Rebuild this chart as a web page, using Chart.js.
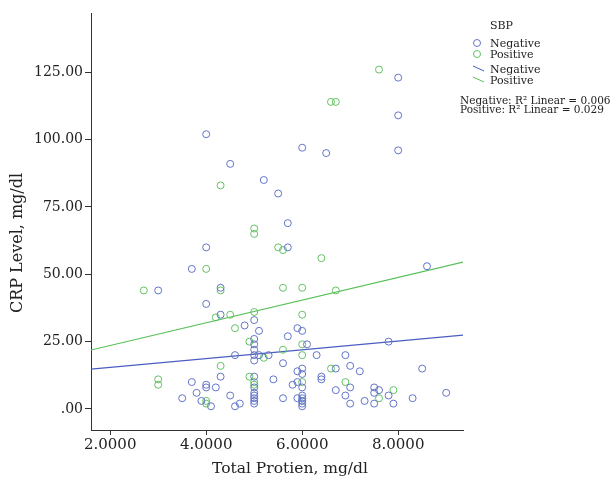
<!DOCTYPE html>
<html>
<head>
<meta charset="utf-8">
<script src="https://cdn.jsdelivr.net/npm/chart.js@4.4.1/dist/chart.umd.min.js"></script>
<style>
    html, body { margin: 0; padding: 0; background: #fff; }
    #wrap { width: 613px; height: 480px; }
</style>
</head>
<body>
<div id="wrap"><canvas id="crpChart" width="613" height="480"></canvas></div>
<script>
// Data
const negativePoints = [
    [8.0,123],[8.0,109],[4.0,102],[6.0,97],[6.5,95],[8.0,96],[4.5,91],[5.2,85],[5.5,80],[5.7,69],
    [4.0,60],[5.7,60],[3.7,52],[8.6,53],[3.0,44],[4.3,45],[4.0,39],[4.3,35],[5.0,33],[4.8,31],
    [5.1,29],[5.9,30],[6.0,29],[5.7,27],[5.0,26],[5.0,24],[6.1,24],[7.8,25],[5.0,22],[5.0,20],
    [5.0,18],[4.6,20],[5.1,20],[5.3,20],[6.3,20],[6.9,20],[5.6,17],[6.7,15],[7.0,16],[7.2,14],
    [8.5,15],[5.9,14],[6.0,15],[6.0,13],[4.3,12],[5.0,12],[5.4,11],[6.4,12],[6.4,11],[3.7,10],
    [4.0,9],[4.0,8],[4.2,8],[5.8,9],[5.9,10],[6.0,8],[7.0,8],[6.7,7],[6.9,5],[7.5,8],
    [7.5,6],[7.6,7],[7.8,5],[8.3,4],[9.0,6],[5.0,8],[5.0,6],[5.0,5],[5.0,4],[5.0,3],
    [5.0,2],[3.5,4],[3.8,6],[3.9,3],[4.1,1],[4.5,5],[4.6,1],[4.7,2],[5.6,4],[5.9,4],
    [6.0,5],[6.0,4],[6.0,3],[6.0,2],[6.0,1],[7.0,2],[7.3,3],[7.5,2],[7.9,2]
];
const positivePoints = [
    [7.6,126],[6.6,114],[6.7,114],[4.3,83],[5.0,67],[5.0,65],[5.5,60],[5.6,59],[6.4,56],[4.0,52],
    [2.7,44],[4.3,44],[5.6,45],[6.0,45],[6.7,44],[4.2,34],[4.5,35],[5.0,36],[6.0,35],[4.6,30],
    [4.9,25],[6.0,24],[5.6,22],[6.0,20],[5.2,19],[4.3,16],[6.6,15],[3.0,11],[3.0,9],[4.9,12],
    [5.0,10],[5.0,9],[6.0,10],[6.9,10],[7.9,7],[7.6,4],[4.0,3],[4.0,2],[6.0,3]
];
// Fit line ends at the edges of the plot
const negativeFit = [[1.6,14.8],[9.35,27.4]];
const positiveFit = [[1.6,21.9],[9.35,54.5]];

const xTickValues = [2, 4, 6, 8];
const xTickLabels = ['2.0000', '4.0000', '6.0000', '8.0000'];
const yTickValues = [0, 25, 50, 75, 100, 125];
const yTickLabels = ['.00', '25.00', '50.00', '75.00', '100.00', '125.00'];

const blueMark = '#6274c8';
const greenMark = '#62c262';
const blueLine = '#4a5dc2';
const greenLine = '#58c058';
const axisColor = '#333';
const serif = "'DejaVu Serif', serif";

const toXY = arr => arr.map(p => ({ x: p[0], y: p[1] }));

// Axis titles sit a bit off-centre in the original, so draw them by hand
const axisTitles = {
    id: 'axisTitles',
    afterDraw(chart) {
        const ctx = chart.ctx;
        ctx.save();
        ctx.fillStyle = '#222';
        ctx.textAlign = 'center';
        ctx.textBaseline = 'middle';
        ctx.font = '15.5px ' + serif;
        ctx.fillText('Total Protien, mg/dl', 290, 469);
        ctx.translate(18, 243);
        ctx.rotate(-Math.PI / 2);
        ctx.font = '16px ' + serif;
        ctx.fillText('CRP Level, mg/dl', 0, 0);
        ctx.restore();
    }
};

// Legend at the right, drawn by hand
const sideLegend = {
    id: 'sideLegend',
    afterDraw(chart) {
        const ctx = chart.ctx;
        ctx.save();
        ctx.fillStyle = '#222';
        ctx.textBaseline = 'middle';
        ctx.font = '11px ' + serif;
        ctx.fillText('SBP', 490, 26);

        ctx.lineWidth = 1;
        ctx.strokeStyle = blueMark;
        ctx.beginPath(); ctx.arc(477, 43, 3.5, 0, Math.PI * 2); ctx.stroke();
        ctx.strokeStyle = greenMark;
        ctx.beginPath(); ctx.arc(477, 54, 3.5, 0, Math.PI * 2); ctx.stroke();

        ctx.strokeStyle = blueLine;
        ctx.beginPath(); ctx.moveTo(473, 66); ctx.lineTo(484, 71); ctx.stroke();
        ctx.strokeStyle = greenLine;
        ctx.beginPath(); ctx.moveTo(473, 77); ctx.lineTo(484, 82); ctx.stroke();

        ctx.fillStyle = '#222';
        ctx.fillText('Negative', 490, 44);
        ctx.fillText('Positive', 490, 55);
        ctx.fillText('Negative', 490, 70);
        ctx.fillText('Positive', 490, 81);

        ctx.font = '10.5px ' + serif;
        ctx.fillText('Negative: R\u00b2 Linear = 0.006', 460, 101, 151);
        ctx.fillText('Positive: R\u00b2 Linear = 0.029', 460, 110, 151);
        ctx.restore();
    }
};

const ctx = document.getElementById('crpChart');
new Chart(ctx, {
    type: 'scatter',
    data: {
        datasets: [{
            label: 'Negative',
            data: toXY(negativePoints),
            pointRadius: 3.5,
            borderWidth: 1,
            borderColor: blueMark,
            backgroundColor: 'rgba(0,0,0,0)'
        }, {
            label: 'Positive',
            data: toXY(positivePoints),
            pointRadius: 3.5,
            borderWidth: 1,
            borderColor: greenMark,
            backgroundColor: 'rgba(0,0,0,0)'
        }, {
            type: 'line',
            label: 'Negative fit',
            data: toXY(negativeFit),
            borderColor: blueLine,
            borderWidth: 1.2,
            pointRadius: 0,
            fill: false
        }, {
            type: 'line',
            label: 'Positive fit',
            data: toXY(positiveFit),
            borderColor: greenLine,
            borderWidth: 1.2,
            pointRadius: 0,
            fill: false
        }]
    },
    options: {
        responsive: false,
        animation: false,
        layout: { padding: { top: 13, right: 150, bottom: 0, left: 0 } },
        plugins: {
            legend: { display: false },
            tooltip: { enabled: false }
        },
        scales: {
            x: {
                type: 'linear',
                min: 1.6,
                max: 9.35,
                afterBuildTicks: scale => { scale.ticks = xTickValues.map(v => ({ value: v })); },
                afterFit: scale => { scale.height = 50; },
                grid: { display: true, drawOnChartArea: false, drawTicks: true, tickLength: 5, color: axisColor },
                border: { display: true, color: axisColor, width: 1 },
                ticks: {
                    color: '#222',
                    padding: 1,
                    maxRotation: 0,
                    font: { family: serif, size: 15 },
                    callback: (v) => xTickLabels[xTickValues.indexOf(v)]
                }
            },
            y: {
                type: 'linear',
                min: -7.8,
                max: 147,
                afterBuildTicks: scale => { scale.ticks = yTickValues.map(v => ({ value: v })); },
                afterFit: scale => { scale.width = 91; },
                grid: { display: true, drawOnChartArea: false, drawTicks: true, tickLength: 6, color: axisColor },
                border: { display: true, color: axisColor, width: 1 },
                ticks: {
                    color: '#222',
                    padding: 2,
                    font: { family: serif, size: 14 },
                    callback: (v) => yTickLabels[yTickValues.indexOf(v)]
                }
            }
        }
    },
    plugins: [axisTitles, sideLegend]
});
</script>
</body>
</html>
